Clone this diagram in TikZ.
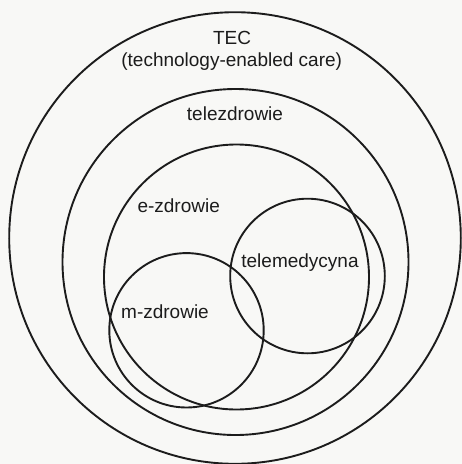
\documentclass[tikz,border=0pt]{standalone}
\usepackage{fontspec}
\setmainfont{Liberation Sans}
\definecolor{bg}{HTML}{F8F8F6}
\definecolor{ink}{HTML}{1C1C1C}
\begin{document}
\begin{tikzpicture}[x=1pt,y=-1pt,
  ring/.style={draw=ink,line width=1.9pt},
  lbl/.style={anchor=base,inner sep=0pt,text=ink,font=\fontsize{19}{22.7}\selectfont}]
\useasboundingbox (0,0) rectangle (462,464);
\fill[bg] (0,0) rectangle (462,464);
\clip (0,0) rectangle (462,464);
\draw[ring] (235,238) circle[radius=225.8];
\draw[ring] (235.5,262) circle[radius=173];
\draw[ring] (236.5,277) circle[radius=132.5];
\draw[ring] (186.5,330.3) circle[radius=77.2];
\draw[ring] (307.5,276) circle[radius=77.3];
\node[lbl] (tec) at (232,44) {TEC};
\node[lbl] (tec2) at (231.7,66.7) {(technology-enabled care)};
\node[lbl] (tele) at (235,120.7) {telezdrowie};
\node[lbl] (ez) at (178.7,212.7) {e-zdrowie};
\node[lbl] (tm) at (300,267.7) {telemedycyna};
\node[lbl] (mz) at (165,318.3) {m-zdrowie};
\end{tikzpicture}
\end{document}
